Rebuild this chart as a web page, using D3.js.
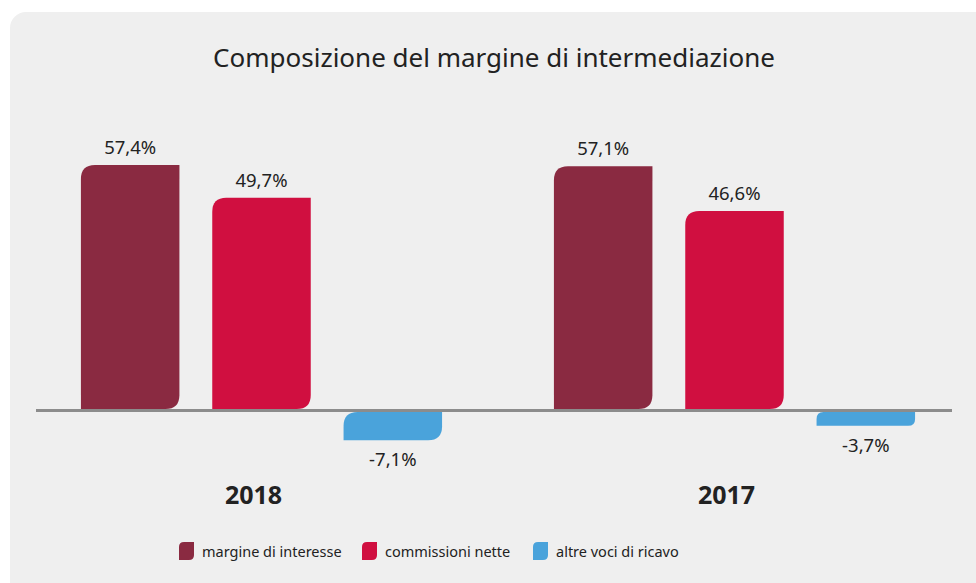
<!DOCTYPE html>
<html lang="it">
<head>
<meta charset="UTF-8"/>
<title>Composizione del margine di intermediazione</title>
<script src="https://d3js.org/d3.v7.min.js"></script>
<style>
	body { margin: 0; background: #ffffff; }
	svg text { font-family: "Noto Sans", "Open Sans", sans-serif; fill: #222; }
</style>
</head>
<body>
<script>
	var years = ["2018", "2017"];
	var series = ["margine di interesse", "commissioni nette", "altre voci di ricavo"];
	var values2018 = [57.4, 49.7, -7.1];
	var values2017 = [57.1, 46.6, -3.7];
	var colors = ["#8a2a41", "#d00f40", "#4aa3db"];

	var w = 976, h = 583;
	var baseY = 410;

	var data = [];
	years.forEach(function(y, gi) {
		var vals = gi == 0 ? values2018 : values2017;
		series.forEach(function(s, si) {
			data.push({year: y, series: s, value: vals[si], idx: si});
		});
	});

	var svg = d3.select("body").append("svg")
		.attr("width", w)
		.attr("height", h);

	// gray panel
	svg.append("rect")
		.attr("x", 10).attr("y", 12)
		.attr("width", w + 20).attr("height", h + 20)
		.attr("rx", 16)
		.attr("fill", "#efefef");

	svg.append("text")
		.attr("x", 494).attr("y", 67)
		.attr("text-anchor", "middle")
		.style("font-size", "26px")
		.text("Composizione del margine di intermediazione");

	var x0 = d3.scaleBand()
		.domain(years)
		.range([25, 971]);

	var x1 = d3.scaleBand()
		.domain(series)
		.range([-197, 197])
		.paddingInner(0.25)
		.paddingOuter(0.125);

	var yScale = d3.scaleLinear()
		.domain([0, 57.4])
		.range([baseY, 165]);

	// bar with rounded top-left and bottom-right corners
	function leaf(x, y0, y1, bw, r) {
		var top = Math.min(y0, y1), bot = Math.max(y0, y1);
		var hh = bot - top;
		r = Math.min(r, hh / 2, bw / 2);
		return "M" + (x + r) + "," + top +
			"H" + (x + bw) +
			"V" + (bot - r) +
			"Q" + (x + bw) + "," + bot + " " + (x + bw - r) + "," + bot +
			"H" + x +
			"V" + (top + r) +
			"Q" + x + "," + top + " " + (x + r) + "," + top + "Z";
	}

	function cx(d) {
		return x0(d.year) + x0.bandwidth() / 2 + x1(d.series);
	}

	svg.selectAll("path.bar")
		.data(data)
		.enter()
		.append("path")
		.attr("class", "bar")
		.attr("fill", function(d) { return colors[d.idx]; })
		.attr("d", function(d) {
			var y0 = d.value >= 0 ? yScale(0) - 1 : yScale(0) + 2;
			return leaf(cx(d), y0, yScale(d.value), x1.bandwidth(), 14);
		});

	svg.append("line")
		.attr("x1", 36).attr("x2", 952)
		.attr("y1", yScale(0) + 0.5).attr("y2", yScale(0) + 0.5)
		.attr("stroke", "#8c8c8c")
		.attr("stroke-width", 3);

	svg.selectAll("text.val")
		.data(data)
		.enter()
		.append("text")
		.attr("class", "val")
		.attr("x", function(d) { return cx(d) + x1.bandwidth() / 2; })
		.attr("y", function(d) {
			return d.value >= 0 ? yScale(d.value) - 11 : yScale(d.value) + 26;
		})
		.attr("text-anchor", "middle")
		.style("font-size", "18.5px")
		.text(function(d) { return d3.format(".1f")(d.value).replace(".", ",").replace("\u2212", "-") + "%"; });

	svg.selectAll("text.year")
		.data(years)
		.enter()
		.append("text")
		.attr("class", "year")
		.attr("x", function(d) { return x0(d) + x0.bandwidth() / 2 - 8; })
		.attr("y", 504)
		.attr("text-anchor", "middle")
		.style("font-size", "25px")
		.style("font-weight", "bold")
		.text(function(d) { return d; });

	// legend
	var legX = [179, 362, 533];
	var leg = svg.selectAll("g.leg")
		.data(series)
		.enter()
		.append("g")
		.attr("class", "leg")
		.attr("transform", function(d, i) { return "translate(" + legX[i] + ",542)"; });

	leg.append("path")
		.attr("fill", function(d, i) { return colors[i]; })
		.attr("d", leaf(0, 0, 18, 15, 5));

	leg.append("text")
		.attr("x", 23).attr("y", 15)
		.style("font-size", "14.5px")
		.text(function(d) { return d; });
</script>
</body>
</html>
